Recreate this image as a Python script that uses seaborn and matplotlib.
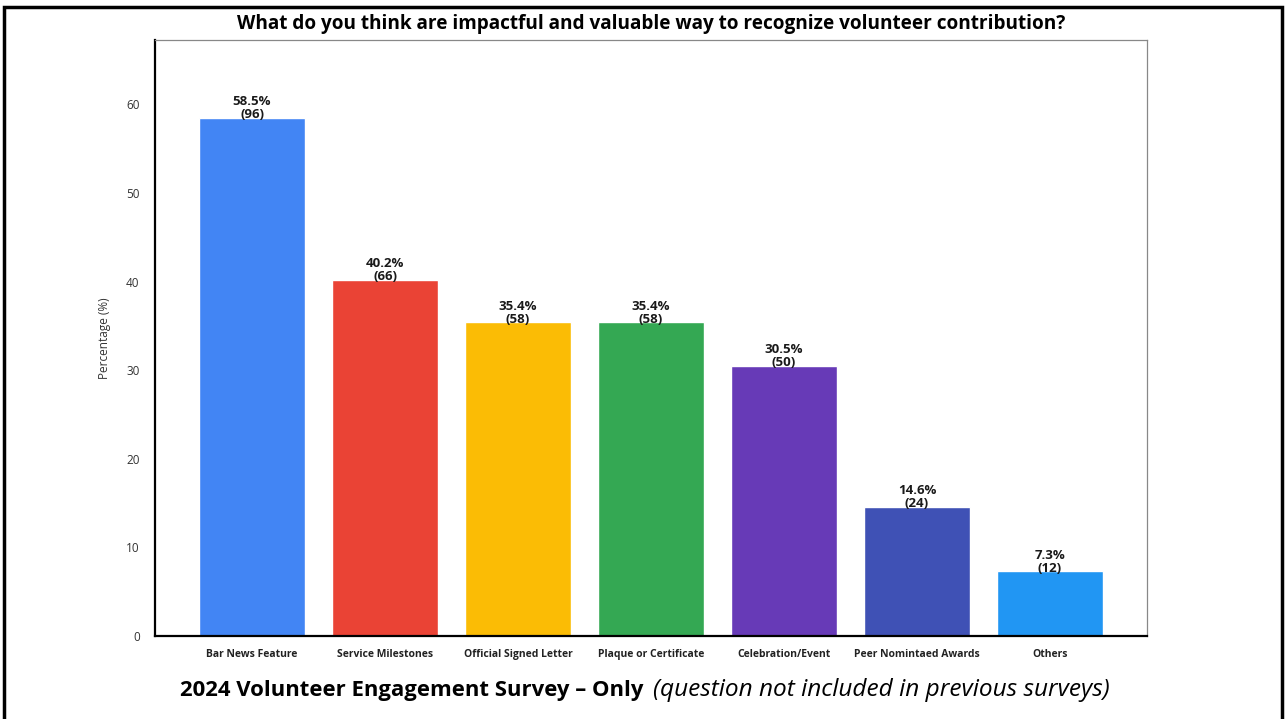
import pandas as pd
import numpy as np
import matplotlib
matplotlib.use("Agg")
import matplotlib.pyplot as plt
import seaborn as sns
from matplotlib.patches import Rectangle

categories = ["Bar News Feature", "Service Milestones", "Official Signed Letter",
              "Plaque or Certificate", "Celebration/Event", "Peer Nomintaed Awards", "Others"]
percentages = [58.5, 40.2, 35.4, 35.4, 30.5, 14.6, 7.3]
counts = [96, 66, 58, 58, 50, 24, 12]
colors = ["#4285F4", "#EA4335", "#FBBC05", "#34A853", "#673AB7", "#3F51B5", "#2196F3"]

df = pd.DataFrame({"Category": categories, "Percentage": percentages, "Count": counts})

sns.set_style("white")
plt.rcParams["font.family"] = ["Open Sans", "DejaVu Sans"]
plt.rcParams["text.color"] = "black"

fig = plt.figure(figsize=(12.87, 7.19), dpi=100)
ax = fig.add_axes([0.1204, 0.1154, 0.7708, 0.829])

sns.barplot(data=df, x="Category", y="Percentage", hue="Category",
            palette=colors, legend=False, width=0.8, saturation=1, ax=ax)

# value labels: percent and count
for i, (p, c) in enumerate(zip(percentages, counts)):
    ax.text(i, p - 0.4, f"{p}%\n({c})", ha="center", va="bottom",
            fontsize=9.5, fontweight="bold", color="#1a1a1a", linespacing=1.0)

ax.set_ylim(0, max(percentages) * 1.15)
ax.set_xlim(-0.73, 6.73)
ax.set_yticks(np.arange(0, 70, 10))
ax.set_xlabel("")
ax.set_ylabel("Percentage (%)", fontsize=8.5, color="#333333", labelpad=11)
ax.set_title("What do you think are impactful and valuable way to recognize volunteer contribution?",
             fontsize=13.7, fontweight="bold", pad=8, color="black")

ax.tick_params(axis="x", labelsize=7.5, length=3, color="#888888", pad=6)
ax.tick_params(axis="y", labelsize=8.5, labelcolor="#333333", length=3, color="#aaaaaa", pad=8)
for lab in ax.get_xticklabels():
    lab.set_fontweight("bold")
    lab.set_color("#222222")

for s in ["left", "bottom"]:
    ax.spines[s].set_color("black")
    ax.spines[s].set_linewidth(1.6)
for s in ["top", "right"]:
    ax.spines[s].set_color("#888888")
    ax.spines[s].set_linewidth(0.9)

# caption below the chart, bold part then italic part
fig.text(644 / 1287, 0.040, "2024 Volunteer Engagement Survey \u2013 Only",
         ha="right", va="center", fontsize=15.9, fontweight="bold", color="black")
fig.text(653 / 1287, 0.040, "(question not included in previous surveys)",
         ha="left", va="center", fontsize=17.6, style="italic", color="black")

# slide frame
fig.patches.append(Rectangle((4 / 1287, -0.05), 1278 / 1287, 1.05 - 7 / 719,
                             transform=fig.transFigure, fill=False,
                             edgecolor="black", linewidth=2.5))

fig.savefig("out.png", dpi=100)
